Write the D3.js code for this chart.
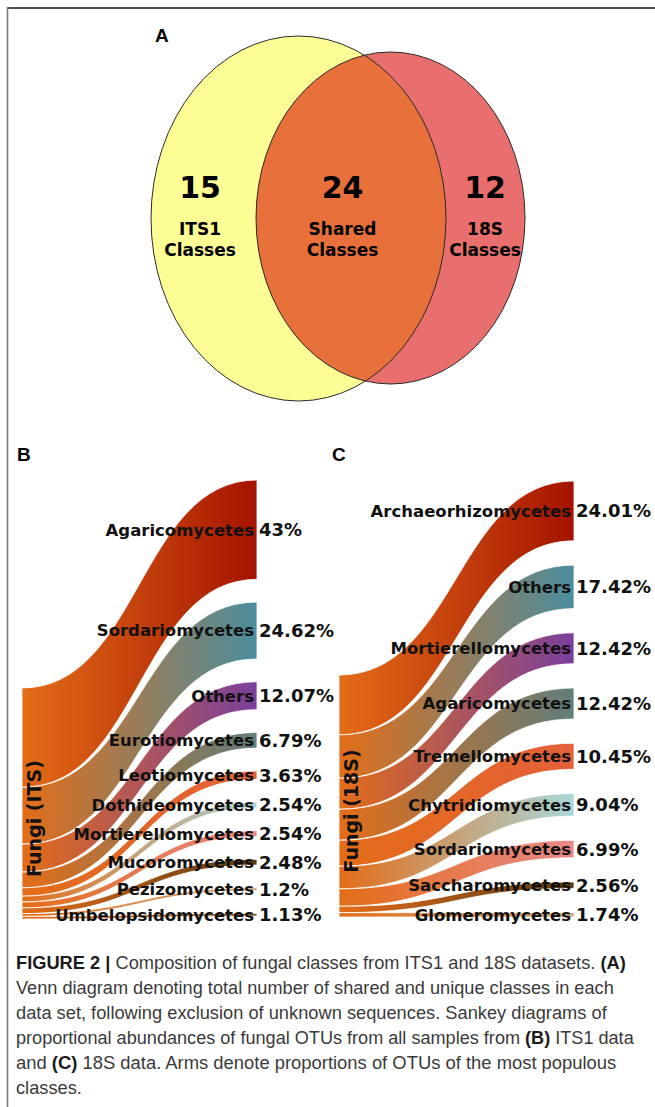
<!DOCTYPE html>
<html>
<head>
<meta charset="utf-8">
<script src="https://cdn.jsdelivr.net/npm/d3@7"></script>
<style>
  body { margin: 0; background: #fff; }
  svg { display: block; }
</style>
</head>
<body>
<div class="mainContainer"></div>
<script>
// Venn counts
const vennCounts = [15, 24, 12];
const vennLabels = [["ITS1", "Classes"], ["Shared", "Classes"], ["18S", "Classes"]];

// Sankey B (ITS1)
const itsClasses = ["Agaricomycetes", "Sordariomycetes", "Others", "Eurotiomycetes", "Leotiomycetes",
  "Dothideomycetes", "Mortierellomycetes", "Mucoromycetes", "Pezizomycetes", "Umbelopsidomycetes"];
const itsValues = [43, 24.62, 12.07, 6.79, 3.63, 2.54, 2.54, 2.48, 1.2, 1.13];
const itsColors = ["#a51300", "#4a8d9e", "#7a3f9c", "#5f7e7b", "#e4603a", "#a9d7d9", "#e8888a", "#5a3a14", "#c9aa7c", "#7a4c22"];

// Sankey C (18S)
const s18Classes = ["Archaeorhizomycetes", "Others", "Mortierellomycetes", "Agaricomycetes", "Tremellomycetes",
  "Chytridiomycetes", "Sordariomycetes", "Saccharomycetes", "Glomeromycetes"];
const s18Values = [24.01, 17.42, 12.42, 12.42, 10.45, 9.04, 6.99, 2.56, 1.74];
const s18Colors = ["#a51300", "#4a8d9e", "#7a3f9c", "#5f7e7b", "#e4603a", "#a9d7d9", "#e8888a", "#5a3a14", "#c9aa7c"];

const sourceColor = "#e36d18";

const caption = [
  [["FIGURE 2 |", true], [" Composition of fungal classes from ITS1 and 18S datasets. ", false], ["(A)", true]],
  [["Venn diagram denoting total number of shared and unique classes in each", false]],
  [["data set, following exclusion of unknown sequences. Sankey diagrams of", false]],
  [["proportional abundances of fungal OTUs from all samples from ", false], ["(B)", true], [" ITS1 data", false]],
  [["and ", false], ["(C)", true], [" 18S data. Arms denote proportions of OTUs of the most populous", false]],
  [["classes.", false]]
];
const captionEnds = [626, 614, 607, 634, 617, null];

const width = 655;
const height = 1107;
const boldFont = "'DejaVu Sans', Verdana, sans-serif";

const svg = d3.select(".mainContainer")
  .append("svg")
  .attr("width", width)
  .attr("height", height);

const defs = svg.append("defs");

// frame
svg.append("line").attr("x1", 7).attr("x2", 655).attr("y1", 8).attr("y2", 8)
  .attr("stroke", "#505050").attr("stroke-width", 2);
svg.append("line").attr("x1", 7.5).attr("x2", 7.5).attr("y1", 7).attr("y2", height)
  .attr("stroke", "#7a7a7a").attr("stroke-width", 1.6);

// ---- Venn (A) ----
const yellow = {cx: 298.5, cy: 218.5, rx: 147.5, ry: 182.5};
const red = {cx: 390.5, cy: 218, rx: 134.5, ry: 166};

defs.append("clipPath").attr("id", "clipYellow")
  .append("ellipse").attr("cx", yellow.cx).attr("cy", yellow.cy).attr("rx", yellow.rx).attr("ry", yellow.ry);

svg.append("ellipse").attr("cx", yellow.cx).attr("cy", yellow.cy).attr("rx", yellow.rx).attr("ry", yellow.ry)
  .attr("fill", "#fdfd96");
svg.append("ellipse").attr("cx", red.cx).attr("cy", red.cy).attr("rx", red.rx).attr("ry", red.ry)
  .attr("fill", "#e86f6d");
svg.append("ellipse").attr("cx", red.cx).attr("cy", red.cy).attr("rx", red.rx).attr("ry", red.ry)
  .attr("fill", "#e8703b").attr("clip-path", "url(#clipYellow)");
[yellow, red].forEach(e => {
  svg.append("ellipse").attr("cx", e.cx).attr("cy", e.cy).attr("rx", e.rx).attr("ry", e.ry)
    .attr("fill", "none").attr("stroke", "#2a2a2a").attr("stroke-width", 1);
});

const vennX = d3.scalePoint().domain(d3.range(vennCounts.length)).range([200, 485]);

svg.selectAll(".vennCount")
  .data(vennCounts)
  .enter()
  .append("text")
  .attr("x", (d, i) => vennX(i))
  .attr("y", 198)
  .attr("text-anchor", "middle")
  .style("font-family", boldFont)
  .style("font-weight", "bold")
  .style("font-size", "30px")
  .text(d => d);

vennLabels.forEach((lines, i) => {
  lines.forEach((t, j) => {
    svg.append("text")
      .attr("x", vennX(i))
      .attr("y", 235 + j * 21)
      .attr("text-anchor", "middle")
      .style("font-family", boldFont)
      .style("font-weight", "bold")
      .style("font-size", "17px")
      .text(t);
  });
});

// panel letters
const letters = [["A", 155, 42], ["B", 17, 461], ["C", 332, 461]];
letters.forEach(l => {
  svg.append("text").attr("x", l[1]).attr("y", l[2])
    .style("font-family", "'Liberation Sans', Arial, sans-serif")
    .style("font-weight", "bold")
    .style("font-size", "19px")
    .text(l[0]);
});

// ---- Sankey (B, C) ----
function drawSankey(id, classes, values, colors, p) {
  const total = d3.sum(values);
  const k = d3.scaleLinear().domain([0, total]).range([0, p.srcH]);
  const pad = (p.tgtBottom - p.tgtTop - p.srcH) / (values.length - 1);
  const x = d3.scaleLinear().domain([0, 1]).range([p.x0, p.x1]);

  let sy = p.srcTop, ty = p.tgtTop;
  const links = values.map((v, i) => {
    const h = k(v);
    const l = {name: classes[i], value: v, color: colors[i], s0: sy, s1: sy + h, t0: ty, t1: ty + h, i: i};
    sy += h;
    ty += h + pad;
    return l;
  });

  const g = svg.append("g");

  links.forEach(l => {
    const grad = defs.append("linearGradient")
      .attr("id", id + "grad" + l.i)
      .attr("gradientUnits", "userSpaceOnUse")
      .attr("x1", x(0)).attr("x2", x(1)).attr("y1", 0).attr("y2", 0);
    grad.append("stop").attr("offset", "0%").attr("stop-color", sourceColor);
    grad.append("stop").attr("offset", "100%").attr("stop-color", l.color);
  });

  g.selectAll("path")
    .data(links)
    .enter()
    .append("path")
    .attr("d", l => {
      const x0 = x(0), x1 = x(1), xm = x(0.5);
      const path = d3.path();
      path.moveTo(x0, l.s0);
      path.bezierCurveTo(xm, l.s0, xm, l.t0, x1, l.t0);
      path.lineTo(x1, l.t1);
      path.bezierCurveTo(xm, l.t1, xm, l.s1, x0, l.s1);
      path.closePath();
      return path.toString();
    })
    .attr("fill", l => "url(#" + id + "grad" + l.i + ")")
    .attr("stroke", "#fff")
    .attr("stroke-width", 0.8);

  g.selectAll(".lab")
    .data(links)
    .enter()
    .append("text")
    .attr("x", x(1) - 3)
    .attr("y", l => (l.t0 + l.t1) / 2)
    .attr("dy", "0.36em")
    .attr("text-anchor", "end")
    .style("font-family", boldFont)
    .style("font-weight", "bold")
    .style("font-size", "16.5px")
    .style("fill", "#111")
    .text(l => l.name);

  g.selectAll(".pct")
    .data(links)
    .enter()
    .append("text")
    .attr("x", x(1) + 2)
    .attr("y", l => (l.t0 + l.t1) / 2)
    .attr("dy", "0.36em")
    .style("font-family", boldFont)
    .style("font-weight", "bold")
    .style("font-size", "18px")
    .style("fill", "#111")
    .text(l => l.value + "%");

  // vertical source label
  const cy = p.srcTop + p.srcH / 2 + 15;
  g.append("text")
    .attr("transform", "translate(" + (p.x0 + 19) + "," + cy + ") rotate(-90)")
    .attr("text-anchor", "middle")
    .style("font-family", boldFont)
    .style("font-weight", "bold")
    .style("font-size", "19px")
    .style("fill", "#111")
    .text(p.source);
}

drawSankey("its", itsClasses, itsValues, itsColors,
  {x0: 22, x1: 257, srcTop: 688, srcH: 231, tgtTop: 480, tgtBottom: 916, source: "Fungi (ITS)"});
drawSankey("s18", s18Classes, s18Values, s18Colors,
  {x0: 339, x1: 574, srcTop: 675, srcH: 242, tgtTop: 481, tgtBottom: 917, source: "Fungi (18S)"});

// ---- caption ----
// lines are squeezed horizontally to the reference line widths (condensed face)
let scales = [];
caption.forEach((line, i) => {
  const t = svg.append("text")
    .attr("x", 0)
    .attr("y", 0)
    .style("font-family", "'Liberation Sans', Arial, sans-serif")
    .style("font-size", "18.5px")
    .style("fill", "#3a3a3a");
  line.forEach(seg => {
    t.append("tspan")
      .style("font-weight", seg[1] ? "bold" : "normal")
      .style("fill", seg[1] ? "#1a1a1a" : "#3a3a3a")
      .text(seg[0]);
  });
  let sx = 0.9;
  if (captionEnds[i]) {
    sx = (captionEnds[i] - 16) / t.node().getComputedTextLength();
    scales.push(sx);
  } else {
    sx = d3.mean(scales);
  }
  t.attr("transform", "translate(16," + (969 + i * 25) + ") scale(" + sx + ",1)");
});
</script>
</body>
</html>
